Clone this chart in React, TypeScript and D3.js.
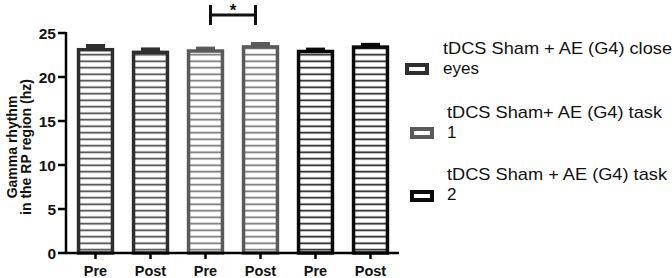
import React from "react";
import * as d3 from "d3";

const categories = ["Pre", "Post", "Pre", "Post", "Pre", "Post"];
const means = [23.3, 23.0, 23.15, 23.62, 23.1, 23.6];
const sems = [0.45, 0.36, 0.3, 0.36, 0.24, 0.28];
const groupOf = [0, 0, 1, 1, 2, 2];
const yTicks = [0, 5, 10, 15, 20, 25];
const legendLabels = [
  ["tDCS Sham + AE (G4) close", "eyes"],
  ["tDCS Sham+ AE (G4) task", "1"],
  ["tDCS Sham + AE (G4) task", "2"],
];
const borderColors = ["#2e2e2e", "#5a5a5a", "#0a0a0a"];
const hatchColors = ["#3c3c3c", "#6a6a6a", "#111111"];

export default function App() {
  const W = 672, H = 278;
  const y = d3.scaleLinear().domain([0, 25]).range([253, 33]);
  const x = d3
    .scaleBand<number>()
    .domain(d3.range(categories.length))
    .range([68, 398])
    .paddingInner(0.32)
    .paddingOuter(0.16);
  const bw = x.bandwidth();
  const font = "'Liberation Sans', Arial, sans-serif";
  const sw = 3.5;

  return (
    <svg
      width={W}
      height={H}
      style={{ position: "absolute", left: 0, top: 0, background: "#fff" }}
      fontFamily={font}
    >
      <defs>
        {hatchColors.map((c, i) => (
          <pattern
            key={i}
            id={`hatch${i}`}
            patternUnits="userSpaceOnUse"
            width={10}
            height={6.5}
            y={y(0)}
          >
            <rect width={10} height={6.5} fill="#fff" />
            <line x1={0} x2={10} y1={3.25} y2={3.25} stroke={c} strokeWidth={1.6} />
          </pattern>
        ))}
      </defs>

      {/* bars */}
      {means.map((m, i) => {
        const g = groupOf[i];
        const x0 = x(i)!;
        const top = y(m);
        const errTop = y(m + sems[i]);
        const cx = x0 + bw / 2;
        return (
          <g key={i}>
            <rect
              x={cx - 9.5}
              y={errTop}
              width={19}
              height={top - errTop + 1}
              fill={borderColors[g]}
            />
            <rect
              x={x0 + sw / 2}
              y={top + sw / 2}
              width={bw - sw}
              height={y(0) - top - sw / 2}
              fill={`url(#hatch${g})`}
              stroke={borderColors[g]}
              strokeWidth={sw}
            />
          </g>
        );
      })}

      {/* axes */}
      <line x1={66} x2={66} y1={y(25) - 1} y2={y(0) + 1} stroke="#000" strokeWidth={2.5} />
      <line x1={64.75} x2={399} y1={y(0)} y2={y(0)} stroke="#000" strokeWidth={2.5} />
      {yTicks.map((t) => (
        <g key={t}>
          <line x1={58} x2={66} y1={y(t)} y2={y(t)} stroke="#000" strokeWidth={2.5} />
          <text
            x={56}
            y={y(t)}
            dy="0.36em"
            textAnchor="end"
            fontSize={15.5}
            fontWeight="bold"
            fill="#111"
          >
            {t}
          </text>
        </g>
      ))}
      {categories.map((c, i) => {
        const cx = x(i)! + bw / 2;
        return (
          <g key={i}>
            <line x1={cx} x2={cx} y1={y(0)} y2={y(0) + 6} stroke="#000" strokeWidth={2.5} />
            <text
              x={cx}
              y={276}
              textAnchor="middle"
              fontSize={14.5}
              fontWeight="bold"
              fill="#111"
            >
              {c}
            </text>
          </g>
        );
      })}

      {/* y label */}
      <g transform="translate(17,147) rotate(-90)">
        <text textAnchor="middle" fontSize={14} fontWeight="bold" fill="#111">
          Gamma rhythm
        </text>
      </g>
      <g transform="translate(31,147) rotate(-90)">
        <text textAnchor="middle" fontSize={14} fontWeight="bold" fill="#111">
          in the RP region (hz)
        </text>
      </g>

      {/* significance */}
      {(() => {
        const xa = x(2)! + bw / 2 + 5;
        const xb = x(3)! + bw / 2 - 5;
        return (
          <g stroke="#111" strokeWidth={3}>
            <line x1={xa} x2={xb} y1={15} y2={15} />
            <line x1={xa} x2={xa} y1={5} y2={25} />
            <line x1={xb} x2={xb} y1={5} y2={25} />
            <text
              x={(xa + xb) / 2}
              y={16}
              textAnchor="middle"
              fontSize={17}
              fontWeight="bold"
              fill="#111"
              stroke="none"
            >
              *
            </text>
          </g>
        );
      })()}

      {/* legend */}
      {legendLabels.map((lines, i) => {
        const sy = [63, 127, 190][i];
        const sx = i === 0 ? 405 : 410;
        const tx = i === 0 ? 443 : 447;
        const base = [54, 118, 180][i];
        const widths = [229, 215, 220];
        return (
          <g key={i}>
            <rect
              x={sx + 2}
              y={sy + 2}
              width={20}
              height={8}
              fill="#fff"
              stroke={borderColors[i]}
              strokeWidth={4}
            />
            <text x={tx} y={base} fontSize={17} fill="#111" textLength={widths[i]} lengthAdjust="spacingAndGlyphs">
              {lines[0]}
            </text>
            <text x={tx} y={base + 20} fontSize={17} fill="#111">
              {lines[1]}
            </text>
          </g>
        );
      })}
    </svg>
  );
}
